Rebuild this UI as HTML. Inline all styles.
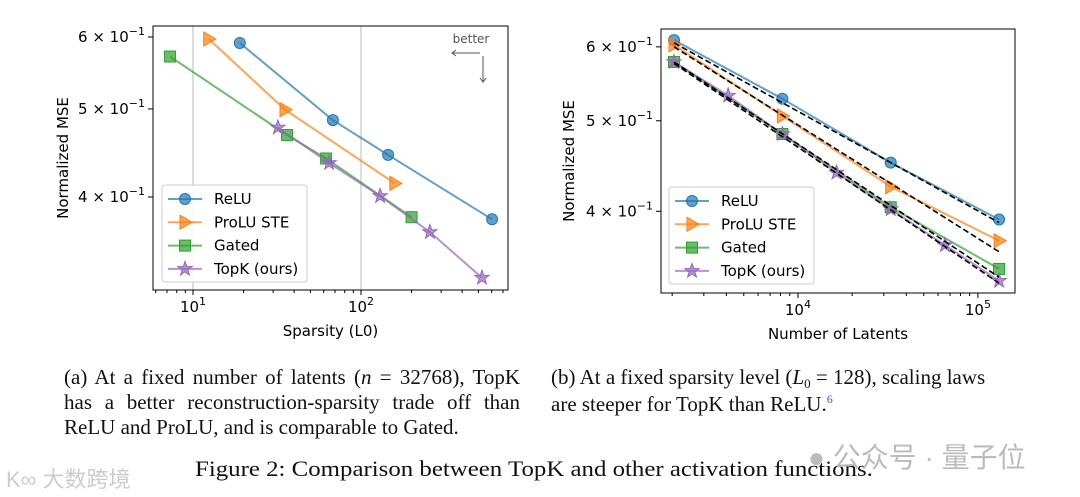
<!DOCTYPE html>
<html><head><meta charset="utf-8"><style>
body{margin:0;background:#fff;width:1080px;height:497px;overflow:hidden;position:relative;font-family:"Liberation Serif",serif}
.cap{position:absolute;font-size:21px;line-height:25px;color:#111;text-align:justify}
svg text{font-family:"DejaVu Sans","Liberation Sans",sans-serif}
</style></head><body>
<svg id="s" width="1080" height="360" style="position:absolute;left:0;top:0"></svg>
<div class="cap" style="left:64px;top:365px;width:456px">(a) At a fixed number of latents (<i>n</i> = 32768), TopK has a better reconstruction-sparsity trade off than ReLU and ProLU, and is comparable to Gated.</div>
<div class="cap" style="left:551px;top:365px;width:450px;text-align:left">(b) At a fixed sparsity level (<i>L</i><span style="font-size:13px;position:relative;top:4px">0</span> = 128), scaling laws are steeper for TopK than ReLU.<span style="color:#4455cc;font-size:12px;position:relative;top:-8px">6</span></div>
<div class="cap" style="left:195px;top:456px;font-size:22px;transform-origin:0 0;transform:scaleX(1.13);white-space:nowrap">Figure 2: Comparison between TopK and other activation functions.</div>
<div style="position:absolute;left:808px;top:436px;font-size:28px;color:#bbb;font-family:'Liberation Sans','Noto Sans CJK SC',sans-serif;white-space:nowrap">● 公众号 · 量子位</div>
<div style="position:absolute;left:6px;top:462px;font-size:22px;color:#ccc;font-family:'Liberation Sans','Noto Sans CJK SC',sans-serif;white-space:nowrap">K∞ 大数跨境</div>
<script>
const names=["ReLU","ProLU STE","Gated","TopK (ours)"];
const colors=["#1f77b4","#ff7f0e","#2ca02c","#9467bd"];
const markers=["circle","tri","square","star"];
// left chart: sparsity vs MSE
const aReluX=[19,68,145,603], aReluY=[0.591,0.486,0.445,0.378];
const aProX=[12.4,35.3,159], aProY=[0.597,0.499,0.414];
const aGatedX=[7.3,36.3,62,200], aGatedY=[0.571,0.468,0.441,0.380];
const aTopX=[32,64.6,130,257,525], aTopY=[0.477,0.436,0.401,0.366,0.326];
// right chart: latents vs MSE
const bReluX=[2048,8192,32768,131072], bReluY=[0.610,0.528,0.451,0.392];
const bProX=[2048,8192,32768,131072], bProY=[0.603,0.506,0.425,0.372];
const bGatedX=[2048,8192,32768,131072], bGatedY=[0.578,0.484,0.404,0.347];
const bTopX=[2048,4096,8192,16384,32768,65536,131072], bTopY=[0.578,0.532,0.484,0.440,0.402,0.368,0.337];
const fitX=[2048,131072];
const fitRelu=[0.606,0.389], fitPro=[0.600,0.362], fitGated=[0.578,0.340], fitTop=[0.576,0.335];
const yTicks=[0.6,0.5,0.4], yTickLabels=["6","5","4"];

const S=document.getElementById('s');const NS="http://www.w3.org/2000/svg";
function el(t,a,p){const e=document.createElementNS(NS,t);for(const k in a)e.setAttribute(k,a[k]);(p||S).appendChild(e);return e;}
function mk(type,x,y,c,g){let e;
 if(type=="circle")e=el("circle",{cx:x,cy:y,r:5.5},g);
 else if(type=="square")e=el("rect",{x:x-5.5,y:y-5.5,width:11,height:11},g);
 else if(type=="tri")e=el("polygon",{points:`${x+7},${y} ${x-5},${y-7} ${x-5},${y+7}`},g);
 else{let p=[];for(let i=0;i<10;i++){const r=i%2?3:7.5,a=-Math.PI/2+i*Math.PI/5;p.push((x+r*Math.cos(a)).toFixed(1)+","+(y+r*Math.sin(a)).toFixed(1));}e=el("polygon",{points:p.join(" ")},g);}
 e.setAttribute("fill",c);e.setAttribute("fill-opacity","0.7");e.setAttribute("stroke",c);return e;}
function chart(cfg){
 const L=Math.log10;
 const X=v=>cfg.x0+(L(v)-L(cfg.xmin))/(L(cfg.xmax)-L(cfg.xmin))*(cfg.x1-cfg.x0);
 const Y=v=>cfg.y1-(L(v)-L(cfg.ymin))/(L(cfg.ymax)-L(cfg.ymin))*(cfg.y1-cfg.y0);
 const g=el("g",{});
 cfg.vgrid.forEach(v=>{const l=el("line",{x1:X(v),x2:X(v),y1:cfg.y0,y2:cfg.y1,stroke:"#bbb","stroke-width":1},g);});
 for(let d=Math.floor(L(cfg.xmin));d<=Math.ceil(L(cfg.xmax));d++){for(let m=1;m<10;m++){const v=m*Math.pow(10,d);if(v<cfg.xmin||v>cfg.xmax)continue;const x=X(v);
  el("line",{x1:x,x2:x,y1:cfg.y1,y2:cfg.y1+(m==1?5:3),stroke:"#000"},g);
  if(m==1){const t=el("text",{x:x,y:cfg.y1+22,"font-size":15,"text-anchor":"middle"},g);t.innerHTML=`10<tspan dy="-7" font-size="11">${d}</tspan>`;}}}
 yTicks.forEach((v,i)=>{const y=Y(v);el("line",{x1:cfg.x0-5,x2:cfg.x0,y1:y,y2:y,stroke:"#000"},g);
  const t=el("text",{x:cfg.x0-8,y:y+5,"font-size":15,"text-anchor":"end"},g);t.innerHTML=`${yTickLabels[i]} × 10<tspan dy="-7" font-size="11">−1</tspan>`;});
 cfg.series.forEach((s,i)=>{const sg=el("g",{},g);
  el("polyline",{points:s[0].map((v,j)=>X(v)+","+Y(s[1][j])).join(" "),fill:"none",stroke:colors[i],"stroke-width":2,"stroke-opacity":0.7},sg);
  s[0].forEach((v,j)=>mk(markers[i],X(v),Y(s[1][j]),colors[i],sg));});
 (cfg.fits||[]).forEach(f=>{const l=el("line",{x1:X(fitX[0]),y1:Y(f[0]),x2:X(fitX[1]),y2:Y(f[1]),stroke:"#000","stroke-width":1.6,"stroke-dasharray":"6,3"},g);});
 el("rect",{x:cfg.x0,y:cfg.y0,width:cfg.x1-cfg.x0,height:cfg.y1-cfg.y0,fill:"none",stroke:"#000","stroke-width":1},g);
 const lg=el("g",{},g);
 el("rect",{x:cfg.lx,y:cfg.ly,width:145,height:97,rx:3,fill:"#fff","fill-opacity":0.85,stroke:"#ccc"},lg);
 names.forEach((n,i)=>{const y=cfg.ly+14+i*23.3;el("line",{x1:cfg.lx+6,x2:cfg.lx+40,y1:y,y2:y,stroke:colors[i],"stroke-width":2,"stroke-opacity":0.7},lg);mk(markers[i],cfg.lx+23,y,colors[i],lg);
  const t=el("text",{x:cfg.lx+52,y:y+5,"font-size":15},lg);t.textContent=n;});
 const xl=el("text",{x:(cfg.x0+cfg.x1)/2,y:cfg.y1+46,"font-size":15,"text-anchor":"middle"},g);xl.textContent=cfg.xlabel;
 const yl=el("text",{x:0,y:0,"font-size":15,"text-anchor":"middle",transform:`translate(${cfg.ylx},${(cfg.y0+cfg.y1)/2}) rotate(-90)`},g);yl.textContent="Normalized MSE";
 return {X,Y,g};
}
chart({name:"chart-sparsity",x0:153,x1:508,y0:26,y1:290,xmin:5.78,xmax:750,ymin:0.316,ymax:0.6*Math.pow(10,11/909),vgrid:[10,100],
 series:[[aReluX,aReluY],[aProX,aProY],[aGatedX,aGatedY],[aTopX,aTopY]],lx:162,ly:185,xlabel:"Sparsity (L0)",ylx:68});
chart({name:"chart-latents",x0:661,x1:1015,y0:29,y1:293,xmin:1734,xmax:160700,ymin:0.327,ymax:0.627,vgrid:[],
 series:[[bReluX,bReluY],[bProX,bProY],[bGatedX,bGatedY],[bTopX,bTopY]],fits:[fitRelu,fitPro,fitGated,fitTop],lx:669,ly:187,xlabel:"Number of Latents",ylx:574});
const bt=el("text",{x:471,y:43,"font-size":12,fill:"#555","text-anchor":"middle"});bt.textContent="better";
el("path",{d:"M480,53 H452 M456,50 L452,53 L456,56 M483,56 V82 M480,78 L483,82 L486,78",stroke:"#555",fill:"none","stroke-width":1});
</script>
</body></html>
